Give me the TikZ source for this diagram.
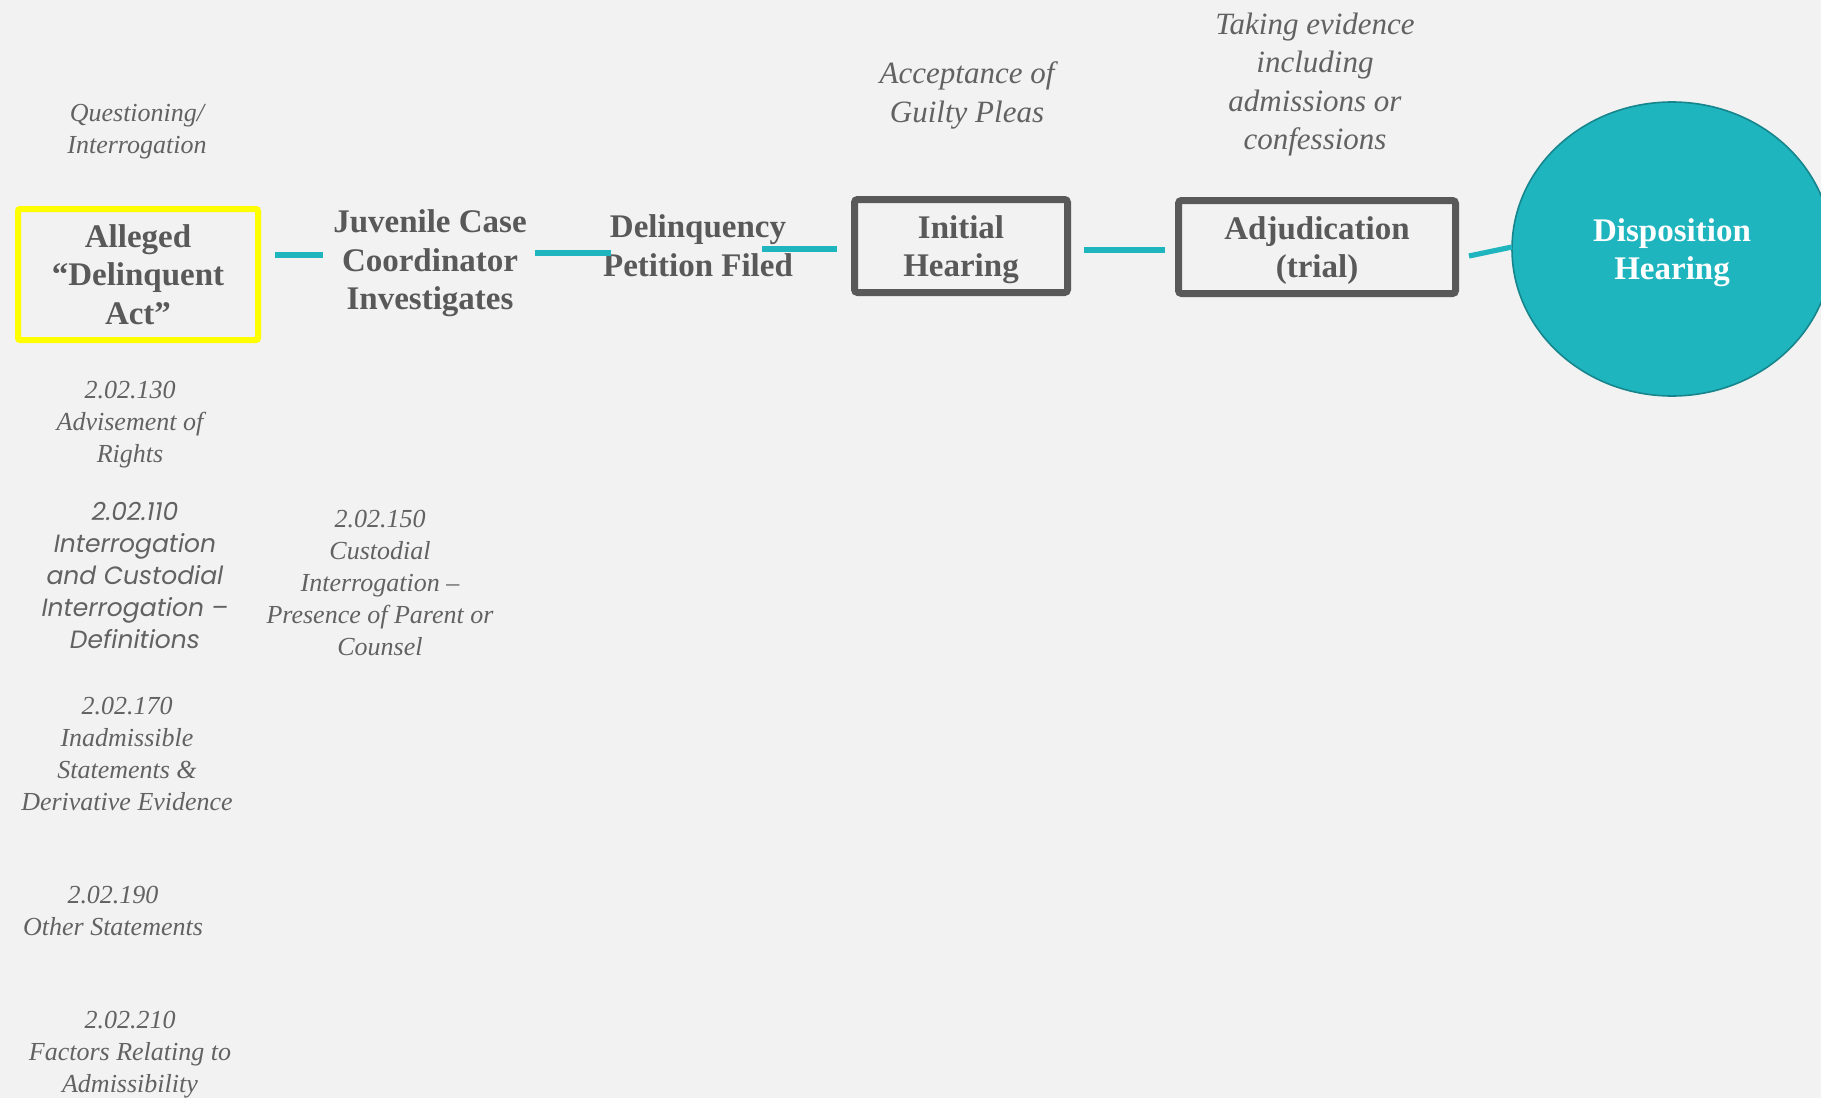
\documentclass[tikz,border=0pt]{standalone}
\usepackage{fontspec}
\setmainfont{Liberation Serif}
\newfontfamily\gothicfont{Poppins}
\usetikzlibrary{calc,shapes.geometric}
\definecolor{tealx}{HTML}{1FB5BF}
\definecolor{tealdk}{HTML}{17858C}
\definecolor{grayx}{HTML}{595959}
\definecolor{notex}{HTML}{626262}
\definecolor{bgx}{HTML}{F2F2F2}
\definecolor{yelx}{HTML}{FFFF00}
\tikzset{
  lbl/.style={align=center,text=grayx,font=\fontsize{16.5}{19.25}\selectfont\bfseries,inner sep=0pt,text depth=0pt},
  yb/.style={lbl,draw=yelx,line width=3pt,rounded corners=1pt,minimum width=120pt,minimum height=65.5pt},
  gb/.style={lbl,draw=grayx,line width=3.5pt,rounded corners=1.5pt,minimum height=46.5pt},
  dc/.style={lbl,ellipse,draw=tealdk,line width=0.8pt,fill=tealx,text=white,minimum width=160pt,minimum height=147pt},
  lk/.style={tealx,line width=2.6pt},
  nt/.style={align=center,text=notex,font=\fontsize{13}{16}\selectfont\itshape,inner sep=0pt,text depth=0pt},
  ntl/.style={nt,font=\fontsize{15.5}{19.25}\selectfont\itshape},
  nts/.style={nt,font=\gothicfont\fontsize{12.5}{16}\selectfont\itshape}
}
\begin{document}
\begin{tikzpicture}[x=0.5pt,y=-0.5pt]
\fill[bgx] (0,0) rectangle (1821,1098);
\useasboundingbox (0,0) rectangle (1821,1098);
\clip (0,0) rectangle (1821,1098);
% main flow
\node[yb] (alleged) at (138,274.5) {Alleged\\``Delinquent\\Act''};
\node[lbl] (juvenile) at (430,260) {Juvenile Case\\Coordinator\\Investigates};
\node[lbl] (petition) at (698,245.5) {Delinquency\\Petition Filed};
\node[gb,minimum width=106.5pt] (initial) at (961,246) {Initial\\Hearing};
\node[gb,minimum width=138.5pt] (adjud) at (1317,247) {Adjudication\\(trial)};
\node[dc] (dispo) at (1672,249) {Disposition\\Hearing};
% links
\draw[lk] ($(alleged.center)+(137,-19.5)$) -- ($(juvenile.center)+(-107,-5)$);
\draw[lk] ($(juvenile.center)+(105,-7)$) -- ($(petition.center)+(-87,7.5)$);
\draw[lk] ($(petition.center)+(64,3.5)$) -- ($(initial.center)+(-124,3)$);
\draw[lk] ($(initial.center)+(123,4)$) -- ($(adjud.center)+(-152,3)$);
\draw[lk] ($(adjud.center)+(152,9)$) -- ($(dispo.center)+(-160,-2)$);
% notes
\node[nt] (quest) at (137,129) {Questioning/\\Interrogation};
\node[ntl] (accept) at (967,92) {Acceptance of\\Guilty Pleas};
\node[ntl] (taking) at (1315,81) {Taking evidence\\including\\admissions or\\confessions};
\node[nt] (r130) at (130,422) {2.02.130\\Advisement of\\Rights};
\node[nts] (r110) at (135,575) {2.02.110\\Interrogation\\and Custodial\\Interrogation –\\Definitions};
\node[nt] (r150) at (380,583) {2.02.150\\Custodial\\Interrogation –\\Presence of Parent or\\Counsel};
\node[nt] (r170) at (127,754) {2.02.170\\Inadmissible\\Statements \&\\Derivative Evidence};
\node[nt] (r190) at (113,911) {2.02.190\\Other Statements};
\node[nt] (r210) at (130,1052) {2.02.210\\Factors Relating to\\Admissibility};
\end{tikzpicture}
\end{document}
